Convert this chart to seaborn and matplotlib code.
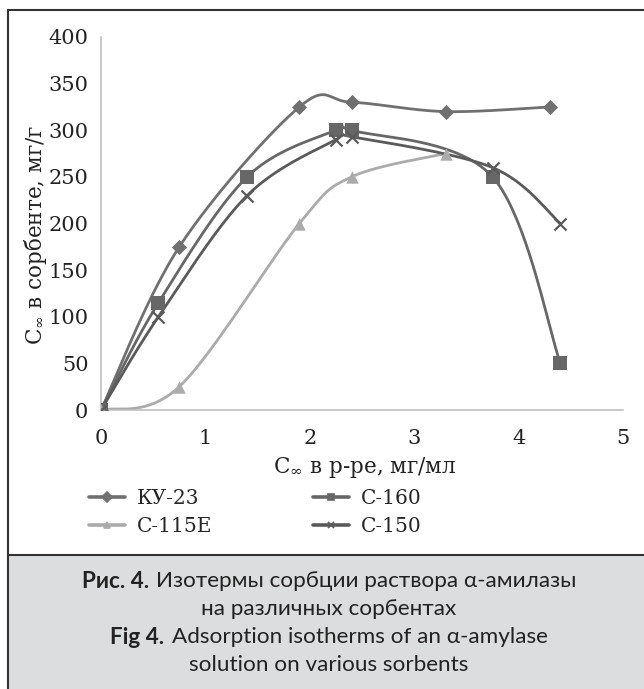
import matplotlib
matplotlib.use("Agg")
import matplotlib.pyplot as plt
from matplotlib.lines import Line2D
from matplotlib.patches import Rectangle
import seaborn as sns
import numpy as np
import pandas as pd

# данные
series_names = ["КУ-23", "С-160", "С-115Е", "С-150"]
ku23_x = [0, 0.75, 1.9, 2.4, 3.3, 4.3]
ku23_y = [0, 175, 325, 330, 320, 325]
c160_x = [0, 0.55, 1.4, 2.25, 2.4, 3.75, 4.4]
c160_y = [0, 115, 250, 300, 300, 250, 50]
c115_x = [0, 0.75, 1.9, 2.4, 3.3]
c115_y = [0, 25, 200, 250, 275]
c150_x = [0, 0.55, 1.4, 2.25, 2.4, 3.75, 4.4]
c150_y = [0, 100, 230, 290, 293, 260, 200]
x_ticks = [0, 1, 2, 3, 4, 5]
y_ticks = [0, 50, 100, 150, 200, 250, 300, 350, 400]

series_x = [ku23_x, c160_x, c115_x, c150_x]
series_y = [ku23_y, c160_y, c115_y, c150_y]
colors = {"КУ-23": "#707070", "С-160": "#676767", "С-115Е": "#ababab", "С-150": "#5a5a5a"}
markers = {"КУ-23": "D", "С-160": "s", "С-115Е": "^", "С-150": "x"}
msize = {"КУ-23": 60, "С-160": 95, "С-115Е": 80, "С-150": 75}


def smooth(xs, ys, n=40):
    # сглаживание как в Excel (кубические Безье через точки)
    p = np.column_stack([xs, ys]).astype(float)
    pts = [p[0]]
    t = np.linspace(0, 1, n)[1:, None]
    for i in range(len(p) - 1):
        p0 = p[i - 1] if i > 0 else p[i]
        p3 = p[i + 2] if i + 2 < len(p) else p[i + 1]
        c1 = p[i] + (p[i + 1] - p0) / 6
        c2 = p[i + 1] - (p3 - p[i]) / 6
        seg = (1 - t) ** 3 * p[i] + 3 * (1 - t) ** 2 * t * c1 + 3 * (1 - t) * t ** 2 * c2 + t ** 3 * p[i + 1]
        pts.extend(seg)
    return np.array(pts)


curve_frames, point_frames = [], []
for name, xs, ys in zip(series_names, series_x, series_y):
    c = smooth(xs, ys)
    curve_frames.append(pd.DataFrame({"x": c[:, 0], "y": c[:, 1], "series": name}))
    point_frames.append(pd.DataFrame({"x": xs, "y": ys, "series": name}))
curves = pd.concat(curve_frames, ignore_index=True)
points = pd.concat(point_frames, ignore_index=True)

sns.set_style("white")
serif = ["DejaVu Serif"]
cap_font = ["Lato", "Noto Sans", "DejaVu Sans"]
plt.rcParams["font.family"] = serif
plt.rcParams["mathtext.fontset"] = "dejavuserif"

W, H = 644, 689
fig = plt.figure(figsize=(W / 100, H / 100), dpi=100)
ax = fig.add_axes([101 / W, 1 - 410 / H, 522 / W, 373 / H])

sns.lineplot(data=curves, x="x", y="y", hue="series", palette=colors, sort=False,
             estimator=None, linewidth=2, legend=False, ax=ax)
for name in series_names:
    sub = points[points["series"] == name]
    kw = dict(linewidth=1.6) if markers[name] == "x" else dict(linewidth=0)
    sns.scatterplot(data=sub, x="x", y="y", color=colors[name], marker=markers[name],
                    s=msize[name], legend=False, ax=ax, zorder=3, **kw)

ax.set_xlim(0, 5)
ax.set_ylim(0, 400)
ax.set_xticks(x_ticks)
ax.set_yticks(y_ticks)
ax.tick_params(axis="both", labelsize=15, colors="#c0c0c0", labelcolor="#222222",
               length=4, width=1)
ax.tick_params(axis="x", pad=10)
ax.tick_params(axis="y", pad=5)
for s in ["top", "right"]:
    ax.spines[s].set_visible(False)
for s in ["left", "bottom"]:
    ax.spines[s].set_color("#c0c0c0")
    ax.spines[s].set_linewidth(1.2)
ax.set_xlabel("С$_\\infty$ в р-ре, мг/мл", fontsize=15.5, color="#222222")
ax.set_ylabel("С$_\\infty$ в сорбенте, мг/г", fontsize=15.5, color="#222222")
ax.xaxis.set_label_coords(0.505, -0.155)
ax.yaxis.set_label_coords(-0.125, 0.469)
ax.xaxis.label.set_va("center")
ax.yaxis.label.set_va("center")

handles = [Line2D([], [], color=colors[n], lw=2.6, marker=markers[n], markersize=5,
                  markeredgewidth=1.2) for n in series_names]
order = [0, 2, 1, 3]
fig.legend([handles[i] for i in order], [series_names[i] for i in order],
           ncol=2, frameon=False, fontsize=14.5, loc="upper left",
           bbox_to_anchor=(85 / W, 1 - 485 / H), handlelength=1.8,
           handletextpad=0.58, columnspacing=5.0, labelspacing=0.45,
           borderaxespad=0, borderpad=0.2)

# рамка и подпись
frame_c = "#333333"
fig.add_artist(Rectangle((8 / W, 0), 1 - 8 / W, 1 - 555 / H, transform=fig.transFigure,
                         facecolor="#dcdddf", edgecolor="none", zorder=0))
fig.add_artist(Line2D([8 / W, 8 / W], [0, 1 - 10 / H], color=frame_c, lw=1.5))
fig.add_artist(Line2D([8 / W, 1], [1 - 10 / H, 1 - 10 / H], color=frame_c, lw=1.5))
fig.add_artist(Line2D([8 / W, 1], [1 - 555 / H, 1 - 555 / H], color=frame_c, lw=1.5))

cap_lines = [("Рис. 4.", "Изотермы сорбции раствора α-амилазы", 581),
             (None, "на различных сорбентах", 609),
             ("Fig 4.", "Adsorption isotherms of an α-amylase", 637),
             (None, "solution on various sorbents", 665)]
cx = 329
renderer = fig.canvas.get_renderer()
for bold, rest, yy in cap_lines:
    tr = fig.text(0, 1 - yy / H, rest, fontsize=16.2, family=cap_font, color="#222222",
                  va="center", ha="left")
    wr = tr.get_window_extent(renderer).width
    if bold:
        tb = fig.text(0, 1 - yy / H, bold, fontsize=16.2, family=cap_font, weight="bold",
                      color="#222222", va="center", ha="left")
        wb = tb.get_window_extent(renderer).width
        gap = 7
        x0 = cx - (wb + gap + wr) / 2
        tb.set_x(x0 / W)
        tr.set_x((x0 + wb + gap) / W)
    else:
        tr.set_x((cx - wr / 2) / W)

fig.savefig("out.png", dpi=100)
